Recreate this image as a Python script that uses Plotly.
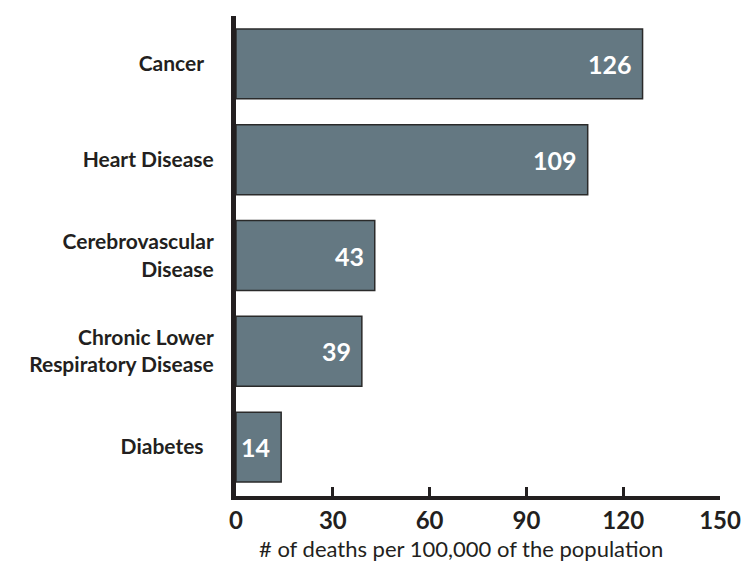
import plotly.graph_objects as go

categories = ["Diabetes", "Chronic Lower<br>Respiratory Disease", "Cerebrovascular<br>Disease", "Heart Disease", "Cancer"]
values = [14, 39, 43, 109, 126]
x_ticks = [0, 30, 60, 90, 120, 150]
x_title = "# of deaths per 100,000 of the population"

ink = "#231f20"
bar_color = "#647882"
font_family = "Lato, 'Open Sans', sans-serif"

W, H = 741, 564
L, R, T, B = 236, 21, 16, 68

fig = go.Figure()
fig.add_trace(go.Bar(
    y=categories,
    x=values,
    orientation="h",
    marker=dict(color=bar_color, line=dict(color="#2a2a2a", width=1.5)),
    width=0.73,
    textposition="none",
    hoverinfo="skip",
))

for c, v in zip(categories, values):
    fig.add_annotation(
        x=v, y=c, xref="x", yref="y",
        text=f"<b>{v}</b>", showarrow=False,
        xanchor="right", xshift=-9,
        font=dict(family=font_family, size=25, color="white"),
    )

plot_h = H - T - B
fig.add_annotation(
    x=0.465, y=-B / plot_h, xref="paper", yref="paper",
    text=x_title, showarrow=False,
    xanchor="center", yanchor="bottom",
    font=dict(family=font_family, size=22, color=ink),
)

fig.update_layout(
    width=W, height=H,
    margin=dict(l=L, r=R, t=T, b=B),
    paper_bgcolor="white", plot_bgcolor="white",
    showlegend=False,
    font=dict(family=font_family, color=ink),
)

fig.update_xaxes(
    range=[0, 150],
    tickvals=x_ticks,
    ticktext=[f"<b>{t}</b>" for t in x_ticks],
    tickfont=dict(size=24, color=ink, family=font_family),
    ticks="inside", ticklen=9, tickwidth=2.5, tickcolor=ink,
    showline=True, linewidth=4, linecolor=ink,
    showgrid=False, zeroline=False,
    ticklabelstandoff=0,
    ticklabeloverflow="allow",
    automargin=False,
)

pad = {"Cancer": "\u00a0\u00a0", "Diabetes": "\u00a0\u00a0"}
fig.update_yaxes(
    type="category",
    range=[-0.51, 4.5],
    tickvals=categories,
    ticktext=[f"<b>{c}{pad.get(c, '')}</b>" for c in categories],
    tickfont=dict(size=21, color=ink, family=font_family),
    ticks="", showline=True, linewidth=5, linecolor=ink,
    showgrid=False, zeroline=False,
    ticklabelstandoff=13,
    automargin=False,
)

fig.write_html(
    "out.html",
    config={"displayModeBar": False},
    post_script="document.body.style.margin='0';document.body.style.overflow='hidden';"
                "document.documentElement.style.overflow='hidden';",
)
